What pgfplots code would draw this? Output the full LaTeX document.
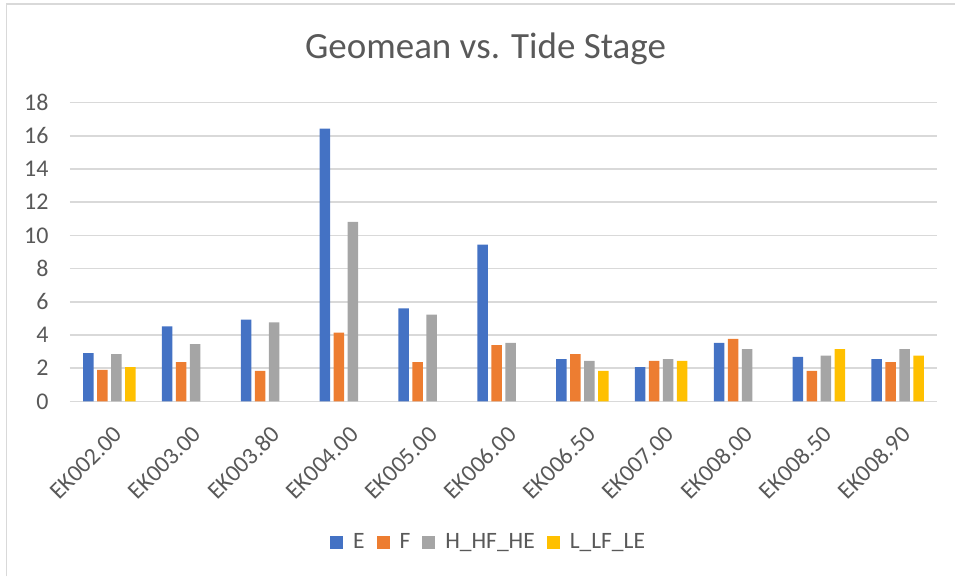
\documentclass[border=0pt]{standalone}
\usepackage{fontspec}
\setmainfont{Carlito}
\usepackage{pgfplots}
\pgfplotsset{compat=1.18}
\definecolor{cE}{HTML}{4472C4}
\definecolor{cF}{HTML}{ED7D31}
\definecolor{cH}{HTML}{A5A5A5}
\definecolor{cL}{HTML}{FFC000}
\definecolor{txt}{HTML}{595959}
\definecolor{grd}{HTML}{D9D9D9}
\begin{document}
\begin{tikzpicture}
\path (0,0) rectangle (478pt,288.5pt);
\draw[grd, line width=0.9pt] (3.25pt,0) -- (3.25pt,286.5pt) -- (478pt,286.5pt);
\node[txt, font=\fontsize{18.5pt}{22pt}\selectfont] at (243pt,264pt) {Geomean vs. Tide Stage};
\begin{axis}[
  at={(35pt,87.65pt)}, anchor=south west,
  scale only axis, width=434pt, height=149.5pt,
  xmin=-0.5, xmax=10.5, ymin=0, ymax=18,
  ytick={0,2,...,18},
  xtick=data,
  xticklabels={EK002.00,EK003.00,EK003.80,EK004.00,EK005.00,EK006.00,EK006.50,EK007.00,EK008.00,EK008.50,EK008.90},
  ybar=1.75pt, bar width=5.25pt,
  axis line style={draw=none},
  axis x line*=bottom,
  x axis line style={draw=grd, line width=0.75pt},
  ymajorgrids, grid style={grd, line width=0.75pt},
  major tick length=0pt,
  tick style={draw=none},
  /pgf/number format/assume math mode=true,
  ticklabel style={txt, font=\fontsize{12pt}{14pt}\selectfont},
  yticklabel style={anchor=east, inner sep=0pt, xshift=-10.5pt},
  xticklabel style={inner sep=0pt, xshift=4.5pt, yshift=-14.5pt, rotate=45, anchor=east},
  legend columns=4,
  legend style={draw=none, fill=none, at={(0.4839,-0.4726)}, anchor=center,
    font=\fontsize{11.75pt}{14pt}\selectfont, text=txt,
    /tikz/every odd column/.append style={column sep=3pt},
    /tikz/every even column/.append style={column sep=4pt}},
  legend image code/.code={\fill[#1] (0pt,-3.25pt) rectangle (6.5pt,3.25pt);},
  clip=false,
]
\addplot[fill=cE, draw=none] coordinates {(0,2.9) (1,4.52) (2,4.92) (3,16.43) (4,5.6) (5,9.44) (6,2.54) (7,2.06) (8,3.52) (9,2.68) (10,2.54)};
\addplot[fill=cF, draw=none] coordinates {(0,1.9) (1,2.36) (2,1.84) (3,4.14) (4,2.36) (5,3.38) (6,2.84) (7,2.44) (8,3.76) (9,1.84) (10,2.36)};
\addplot[fill=cH, draw=none] coordinates {(0,2.84) (1,3.44) (2,4.76) (3,10.82) (4,5.22) (5,3.52) (6,2.44) (7,2.54) (8,3.14) (9,2.76) (10,3.14)};
\addplot[fill=cL, draw=none] coordinates {(0,2.06) (6,1.84) (7,2.44) (9,3.14) (10,2.76)};
\legend{E,F,H\_HF\_HE,L\_LF\_LE}
\end{axis}
\end{tikzpicture}
\end{document}
